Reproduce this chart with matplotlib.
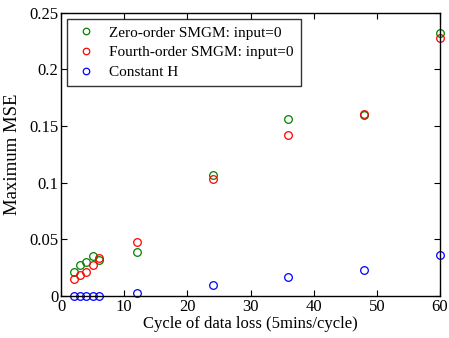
import matplotlib
matplotlib.use('Agg')
import matplotlib.pyplot as plt

plt.rcParams['font.family'] = ['Liberation Serif', 'DejaVu Serif']

# cycle of data loss
cycles = [2, 3, 4, 5, 6, 12, 24, 36, 48, 60]
# maximum MSE
zeroOrder = [0.021, 0.027, 0.030, 0.035, 0.0315, 0.0387, 0.107, 0.156, 0.160, 0.232]
fourthOrder = [0.015, 0.019, 0.0217, 0.027, 0.034, 0.0476, 0.103, 0.142, 0.161, 0.228]
constantH = [0.0003, 0.0003, 0.0003, 0.0003, 0.0003, 0.0027, 0.0098, 0.0167, 0.0226, 0.0366]

fig = plt.figure(figsize=(4.49, 3.38), dpi=100)
ax = fig.add_axes([0.136, 0.124, 0.844, 0.838])

ax.plot(cycles, zeroOrder, 'o', mfc='none', mec='green', ms=5.5, mew=0.9,
        label='Zero-order SMGM: input=0', clip_on=False)
ax.plot(cycles, fourthOrder, 'o', mfc='none', mec='red', ms=5.5, mew=0.9,
        label='Fourth-order SMGM: input=0', clip_on=False)
ax.plot(cycles, constantH, 'o', mfc='none', mec='blue', ms=5.5, mew=0.9,
        label='Constant H', clip_on=False)

ax.set_xlim(0, 60)
ax.set_ylim(0, 0.25)
ax.set_xticks([0, 10, 20, 30, 40, 50, 60])
ax.set_yticks([0, 0.05, 0.1, 0.15, 0.2, 0.25])
ax.set_yticklabels(['0', '0.05', '0.1', '0.15', '0.2', '0.25'])
ax.tick_params(direction='in', top=True, right=True, labelsize=12, length=4, pad=2)
for s in ax.spines.values():
    s.set_linewidth(1.0)

ax.set_xlabel('Cycle of data loss (5mins/cycle)', fontsize=12, labelpad=1)
ax.set_ylabel('Maximum MSE', fontsize=13.5, labelpad=6)

leg = ax.legend(loc='upper left', fontsize=11, fancybox=False, edgecolor='black',
                handletextpad=0.7, borderpad=0.45, labelspacing=0.4,
                handlelength=1.6, markerscale=0.85, borderaxespad=0.4)
leg.get_frame().set_linewidth(1.0)

fig.savefig('out.png', dpi=100)
